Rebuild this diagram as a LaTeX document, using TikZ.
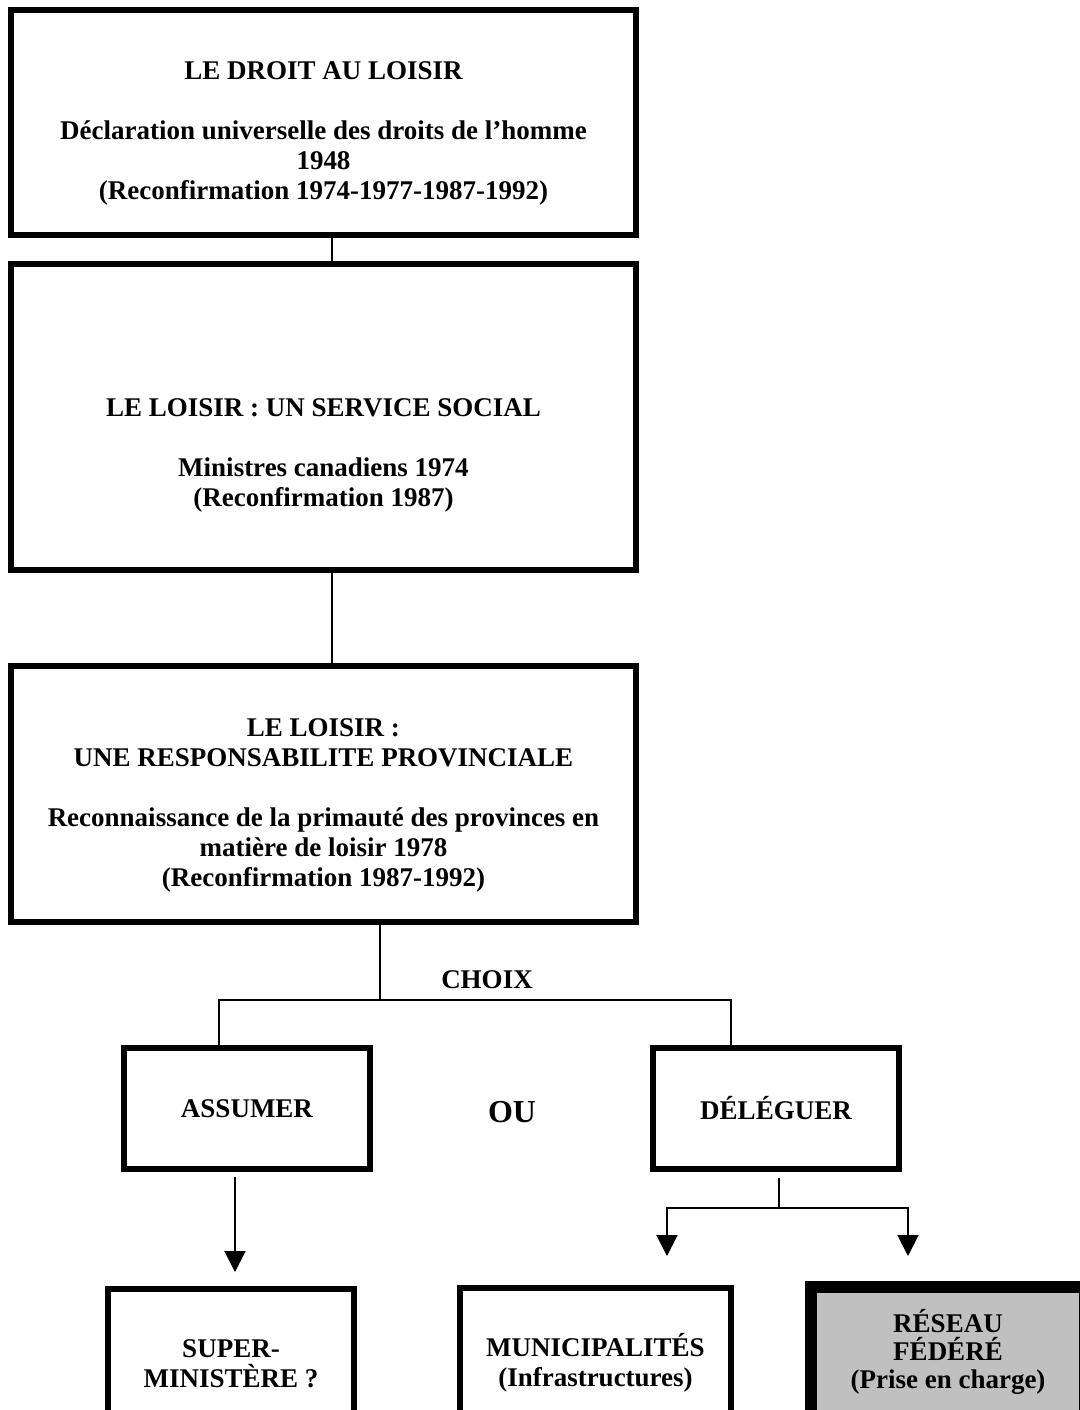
\documentclass[tikz,border=0pt]{standalone}
\usepackage{fontspec}
\setmainfont{Liberation Serif}
\usetikzlibrary{arrows.meta}
\definecolor{fedgray}{HTML}{C0C0C0}

\begin{document}
\begin{tikzpicture}[x=0.5pt, y=-0.5pt,
				   every node/.style={align=center, inner sep=0pt, font=\fontsize{13.5}{15}\selectfont\bfseries},
				   box/.style={rectangle, draw=black, line width=3pt},
				   wide box/.style={box, minimum width=312.5pt},
				   small box/.style={box, minimum width=123pt},
				   link/.style={line width=1pt},
				   arrow/.style={link, -{Triangle[width=10.5pt, length=10.5pt]}}]
\useasboundingbox (0,0) rectangle (1080,1410);
% the three levels
\node[wide box, minimum height=112.25pt] (droit) at (323.5,122.25)
	{\rule{0pt}{20.6pt}LE DROIT AU LOISIR\\[15pt]
	 Déclaration universelle des droits de l’homme\\ 1948\\ (Reconfirmation 1974-1977-1987-1992)};
\node[wide box, minimum height=153pt] (service) at (323.5,417)
	{\rule{0pt}{46.9pt}LE LOISIR : UN SERVICE SOCIAL\\[15pt]
	 Ministres canadiens 1974\\ (Reconfirmation 1987)};
\node[wide box, minimum height=128pt] (provinciale) at (323.5,794)
	{\rule{0pt}{20.4pt}LE LOISIR :\\ UNE RESPONSABILITE PROVINCIALE\\[15pt]
	 Reconnaissance de la primauté des provinces en\\ matière de loisir 1978\\ (Reconfirmation 1987-1992)};
% the choice
\node (choix) at (487,980) {CHOIX};
\node[small box, minimum height=60.5pt] (assumer) at (247,1108.5) {ASSUMER};
\node[font=\fontsize{16}{18}\selectfont\bfseries] (ou) at (512,1112) {OU};
\node[small box, minimum height=60.5pt] (deleguer) at (776,1108.5) {DÉLÉGUER};
% the outcomes
\node[small box, minimum height=75pt] (super) at (231,1363.5) {SUPER-\\ MINISTÈRE ?};
\node[box, minimum width=135.5pt, minimum height=75pt] (municipalites) at (595.5,1363)
	{MUNICIPALITÉS\\ (Infrastructures)};
\node[box, line width=6pt, fill=fedgray, minimum width=137pt, minimum height=65pt,
	  font=\fontsize{13.5}{14}\selectfont\bfseries] (federe) at (948,1352)
	{RÉSEAU\\ FÉDÉRÉ\\ (Prise en charge)};

\coordinate (fork) at (380,1000);
\coordinate (split) at (779,1208);
\coordinate (super-in) at (235,1272);
\coordinate (muni-in) at (667,1256);
\coordinate (fed-in) at (908,1256);

\draw[link] ([xshift=4pt]droit.south) -- ([xshift=4pt]service.north);
\draw[link] ([xshift=4pt]service.south) -- ([xshift=4pt]provinciale.north);
\draw[link] (provinciale.south -| fork) -- (fork);
\draw[link] ([xshift=-14pt]assumer.north) |- (fork) -| ([xshift=-22.5pt]deleguer.north);
\draw[arrow] ([xshift=-6pt, yshift=-2.5pt]assumer.south) -- (super-in);
\draw[link] ([xshift=1.5pt, yshift=-3pt]deleguer.south) -- (split);
\draw[arrow] (split) -| (muni-in);
\draw[arrow] (split) -| (fed-in);
\end{tikzpicture}
\end{document}
